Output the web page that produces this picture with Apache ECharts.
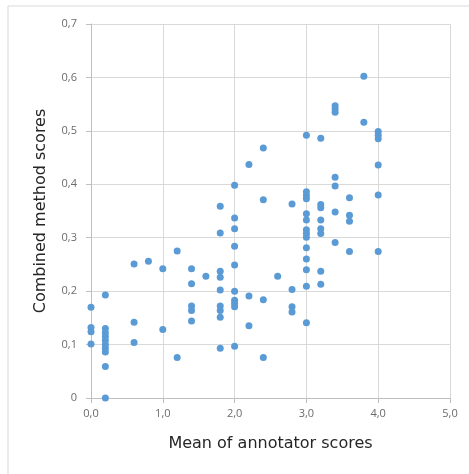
<!DOCTYPE html>
<html>
<head>
<meta charset="utf-8">
<script src="https://cdn.jsdelivr.net/npm/echarts@6/dist/echarts.min.js"></script>
<style>
html,body{margin:0;padding:0;background:#fff;}
#chart{width:469px;height:474px;}
</style>
</head>
<body>
<div id="chart"></div>
<script>
// Mean of annotator scores (x) and combined method scores (y)
const xValues = [
  0.0, 0.0, 0.0, 0.0,
  0.2, 0.2, 0.2, 0.2, 0.2, 0.2, 0.2, 0.2, 0.2, 0.2,
  0.6, 0.6, 0.6,
  0.8,
  1.0, 1.0,
  1.2, 1.2,
  1.4, 1.4, 1.4, 1.4, 1.4,
  1.6,
  1.8, 1.8, 1.8, 1.8, 1.8, 1.8, 1.8, 1.8, 1.8,
  2.0, 2.0, 2.0, 2.0, 2.0, 2.0, 2.0, 2.0, 2.0, 2.0,
  2.2, 2.2, 2.2,
  2.4, 2.4, 2.4, 2.4,
  2.6,
  2.8, 2.8, 2.8, 2.8,
  3.0, 3.0, 3.0, 3.0, 3.0, 3.0, 3.0, 3.0, 3.0, 3.0, 3.0, 3.0, 3.0, 3.0,
  3.2, 3.2, 3.2, 3.2, 3.2, 3.2, 3.2, 3.2,
  3.4, 3.4, 3.4, 3.4, 3.4, 3.4, 3.4,
  3.6, 3.6, 3.6, 3.6,
  3.8, 3.8,
  4.0, 4.0, 4.0, 4.0, 4.0, 4.0
];
const yValues = [
  0.170, 0.132, 0.124, 0.101,
  0.193, 0.130, 0.122, 0.115, 0.108, 0.100, 0.093, 0.086, 0.059, 0.000,
  0.251, 0.142, 0.104,
  0.256,
  0.242, 0.128,
  0.275, 0.076,
  0.242, 0.214, 0.172, 0.164, 0.144,
  0.228,
  0.359, 0.309, 0.237, 0.226, 0.202, 0.172, 0.164, 0.151, 0.093,
  0.398, 0.337, 0.317, 0.284, 0.249, 0.200, 0.183, 0.177, 0.171, 0.097,
  0.437, 0.191, 0.135,
  0.468, 0.371, 0.184, 0.076,
  0.228,
  0.363, 0.203, 0.171, 0.161,
  0.492, 0.386, 0.379, 0.373, 0.345, 0.333, 0.315, 0.308, 0.301, 0.281, 0.260, 0.240, 0.209, 0.141,
  0.486, 0.362, 0.356, 0.333, 0.317, 0.308, 0.237, 0.213,
  0.547, 0.541, 0.535, 0.413, 0.397, 0.348, 0.291,
  0.375, 0.342, 0.331, 0.274,
  0.602, 0.516,
  0.499, 0.492, 0.485, 0.436, 0.380, 0.274
];
const xAxisTitle = 'Mean of annotator scores';
const yAxisTitle = 'Combined method scores';

const points = xValues.map((x, i) => [x, yValues[i]]);
const fmt = (v, d) => v.toFixed(d).replace('.', ',');
const FONT = '"Open Sans", sans-serif';
const TITLE_FONT = '"DejaVu Sans", sans-serif';

const chart = echarts.init(document.getElementById('chart'), null, {renderer: 'canvas'});
chart.setOption({
  animation: false,
  backgroundColor: '#ffffff',
  graphic: [{
    type: 'rect',
    shape: {x: 8, y: 6, width: 480, height: 490},
    style: {fill: 'none', stroke: '#d9d9d9', lineWidth: 1},
    silent: true
  }],
  grid: {left: 91, right: 19, top: 24, bottom: 76, containLabel: false},
  xAxis: {
    type: 'value', min: 0, max: 5, interval: 1,
    name: xAxisTitle, nameLocation: 'middle', nameGap: 38,
    nameTextStyle: {fontFamily: TITLE_FONT, fontSize: 16, color: '#262626'},
    axisLine: {show: true, onZero: false, lineStyle: {color: '#bfbfbf'}},
    axisTick: {show: true, inside: false, length: 5, lineStyle: {color: '#bfbfbf'}},
    axisLabel: {fontFamily: FONT, fontSize: 11, color: '#6b6b6b', margin: 10,
      formatter: v => fmt(v, 1)},
    splitLine: {show: true, lineStyle: {color: '#d9d9d9'}}
  },
  yAxis: {
    type: 'value', min: 0, max: 0.7, interval: 0.1,
    name: yAxisTitle, nameLocation: 'middle', nameGap: 42, nameRotate: 90,
    nameTextStyle: {fontFamily: TITLE_FONT, fontSize: 16, color: '#262626'},
    axisLine: {show: true, lineStyle: {color: '#bfbfbf'}},
    axisTick: {show: true, inside: false, length: 5, lineStyle: {color: '#bfbfbf'}},
    axisLabel: {fontFamily: FONT, fontSize: 11, color: '#6b6b6b', margin: 14,
      formatter: v => (Math.abs(v) < 1e-9 ? '0' : fmt(v, 1))},
    splitLine: {show: true, lineStyle: {color: '#d9d9d9'}}
  },
  series: [{
    type: 'scatter',
    data: points,
    symbol: 'circle',
    symbolSize: 7,
    itemStyle: {color: '#5b9bd5', opacity: 1}
  }]
});
</script>
</body>
</html>
